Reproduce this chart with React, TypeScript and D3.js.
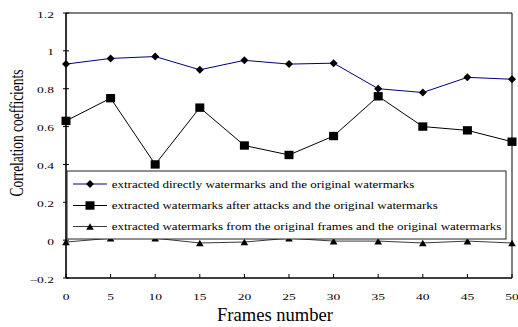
import * as d3 from "d3";
import { useEffect, useRef } from "react";

const frames = [0, 5, 10, 15, 20, 25, 30, 35, 40, 45, 50];
const directValues = [0.93, 0.96, 0.97, 0.9, 0.95, 0.93, 0.935, 0.8, 0.78, 0.86, 0.85];
const attackedValues = [0.63, 0.75, 0.4, 0.7, 0.5, 0.45, 0.55, 0.76, 0.6, 0.58, 0.52];
const originalValues = [-0.01, 0.01, 0.01, -0.015, -0.01, 0.01, -0.005, -0.005, -0.015, -0.005, -0.015];
const yTicks = [-0.2, 0, 0.2, 0.4, 0.6, 0.8, 1, 1.2];
const xTicks = [0, 5, 10, 15, 20, 25, 30, 35, 40, 45, 50];
const legendLabels = [
  "extracted directly watermarks and the original watermarks",
  "extracted watermarks after attacks and the original watermarks",
  "extracted watermarks from the original frames and the original watermarks",
];

const FONT = "'Liberation Serif', 'Times New Roman', serif";

function App() {
  const ref = useRef<SVGSVGElement>(null);

  useEffect(() => {
    const svg = d3.select(ref.current);
    svg.selectAll("*").remove();

    // plot area
    const left = 66, right = 512, top = 13, bottom = 278;
    const xScale = d3.scaleLinear().domain([0, 50]).range([left, right]);
    const yScale = d3.scaleLinear().domain([-0.2, 1.2]).range([bottom, top]);

    // frame: thin top/right, heavier left/bottom
    svg.append("line").attr("x1", left).attr("x2", right).attr("y1", top).attr("y2", top)
      .attr("stroke", "#000").attr("stroke-width", 1);
    svg.append("line").attr("x1", right).attr("x2", right).attr("y1", top).attr("y2", bottom)
      .attr("stroke", "#000").attr("stroke-width", 1);
    svg.append("line").attr("x1", left).attr("x2", left).attr("y1", top).attr("y2", bottom)
      .attr("stroke", "#000").attr("stroke-width", 1.6);
    svg.append("line").attr("x1", left).attr("x2", right).attr("y1", bottom).attr("y2", bottom)
      .attr("stroke", "#000").attr("stroke-width", 1.6);

    // y ticks and labels
    yTicks.forEach((t) => {
      const yy = yScale(t);
      svg.append("line").attr("x1", left - 3).attr("x2", left + 3).attr("y1", yy).attr("y2", yy)
        .attr("stroke", "#000").attr("stroke-width", 1);
      svg.append("text")
        .attr("transform", `translate(54,${yy + 4.5}) scale(1.5,1)`)
        .attr("text-anchor", "end")
        .attr("font-family", FONT)
        .attr("font-size", 9)
        .attr("fill", "#000")
        .text(d3.format("")(Math.round(t * 10) / 10));
    });

    // x ticks and labels
    xTicks.forEach((t) => {
      const xx = xScale(t);
      svg.append("line").attr("x1", xx).attr("x2", xx).attr("y1", bottom).attr("y2", bottom - 4)
        .attr("stroke", "#000").attr("stroke-width", 1);
      svg.append("text")
        .attr("transform", `translate(${xx},300) scale(1.5,1)`)
        .attr("text-anchor", "middle")
        .attr("font-family", FONT)
        .attr("font-size", 9)
        .attr("fill", "#000")
        .text(t);
    });

    // axis titles
    svg.append("text")
      .attr("transform", "translate(23,133) rotate(-90)")
      .attr("text-anchor", "middle")
      .attr("font-family", FONT)
      .attr("font-size", 19)
      .attr("textLength", 127)
      .attr("lengthAdjust", "spacingAndGlyphs")
      .text("Correlation coefficients");
    svg.append("text")
      .attr("x", 275)
      .attr("y", 321)
      .attr("text-anchor", "middle")
      .attr("font-family", FONT)
      .attr("font-size", 19)
      .attr("textLength", 116)
      .attr("lengthAdjust", "spacingAndGlyphs")
      .text("Frames number");

    const line = d3.line<number>()
      .x((_, i) => xScale(frames[i]))
      .y((d) => yScale(d));

    // marker shapes
    const diamond = (cx: number, cy: number) =>
      `M${cx},${cy - 4}L${cx + 4},${cy}L${cx},${cy + 4}L${cx - 4},${cy}Z`;
    const square = (cx: number, cy: number) =>
      `M${cx - 4.5},${cy - 4.2}h9v8.4h-9Z`;
    const triangle = (cx: number, cy: number) =>
      `M${cx},${cy - 3.3}L${cx + 3.8},${cy + 3.3}L${cx - 3.8},${cy + 3.3}Z`;

    const series = [
      { values: directValues, color: "#000080", marker: diamond },
      { values: attackedValues, color: "#000", marker: square },
      { values: originalValues, color: "#3a3a3a", marker: triangle },
    ];

    series.forEach((s) => {
      svg.append("path")
        .datum(s.values)
        .attr("fill", "none")
        .attr("stroke", s.color)
        .attr("stroke-width", 1)
        .attr("d", line);
      svg.selectAll(null)
        .data(s.values)
        .enter()
        .append("path")
        .attr("fill", "#000")
        .attr("d", (d, i) => s.marker(xScale(frames[i]), yScale(d)));
    });

    // legend
    const lg = { x: 67, y: 171, w: 439, h: 68 };
    svg.append("rect")
      .attr("x", lg.x).attr("y", lg.y).attr("width", lg.w).attr("height", lg.h)
      .attr("fill", "#fff").attr("stroke", "#222").attr("stroke-width", 1);
    const rowY = [184, 205.5, 226.5];
    series.forEach((s, i) => {
      const cy = rowY[i];
      svg.append("line").attr("x1", 73).attr("x2", 107).attr("y1", cy).attr("y2", cy)
        .attr("stroke", s.color).attr("stroke-width", 1);
      svg.append("path").attr("fill", "#000").attr("d", s.marker(90, cy));
      svg.append("text")
        .attr("transform", `translate(111.7,${cy + 3.5}) scale(1.3,1)`)
        .attr("font-family", FONT)
        .attr("font-size", 10)
        .attr("fill", "#000")
        .text(legendLabels[i]);
    });
  }, []);

  return (
    <svg
      ref={ref}
      width={518}
      height={327}
      style={{ position: "absolute", left: 0, top: 0, background: "#fff" }}
    />
  );
}

export default App;
